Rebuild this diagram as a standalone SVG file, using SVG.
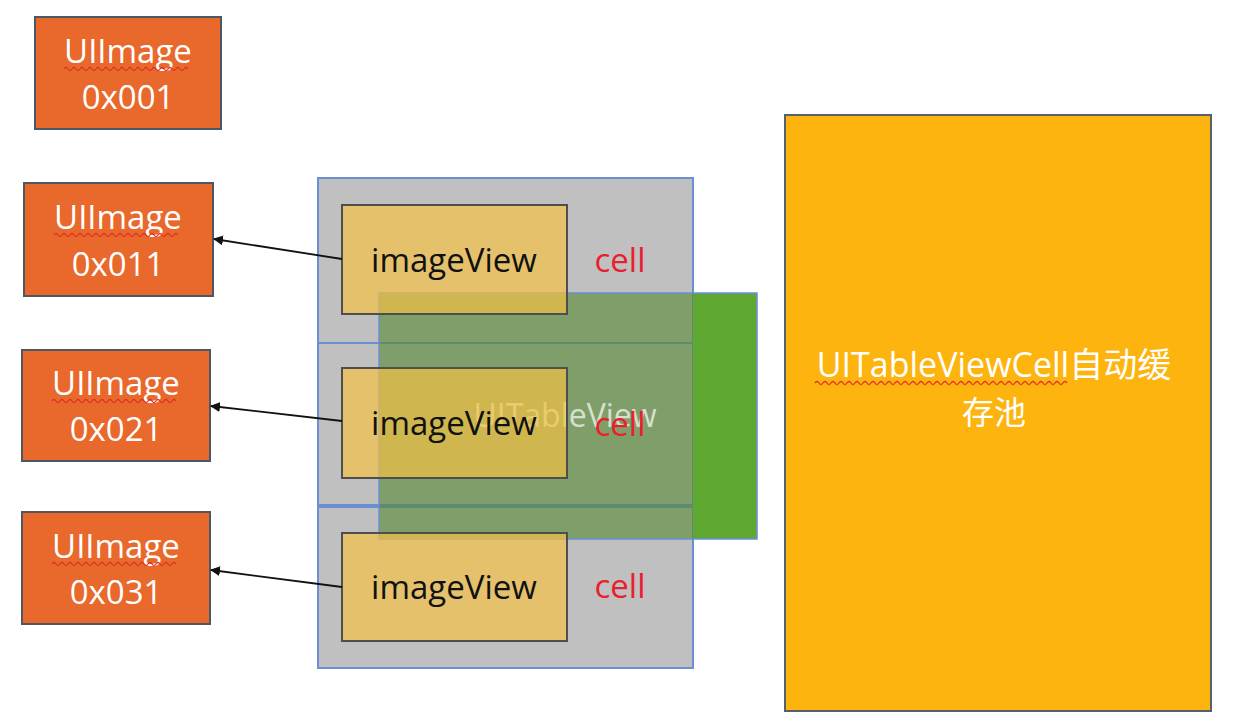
<svg xmlns="http://www.w3.org/2000/svg" width="1234" height="714" viewBox="0 0 1234 714">
<style>
.img{fill:#E8692B;stroke:#4B5763;stroke-width:2}
.imgt{font-family:"Open Sans","Liberation Sans",sans-serif;font-size:33px;fill:#FFFFFF;text-anchor:middle}
.cell{fill:#C0C0C0;stroke:#6B8FD3;stroke-width:2}
.iv{fill:#F3C143;fill-opacity:0.69;stroke:#4E4E4E;stroke-width:2}
.ivt{font-family:"Open Sans","Liberation Sans",sans-serif;font-size:33px;fill:#111111;text-anchor:middle}
.ct{font-family:"Open Sans","Liberation Sans",sans-serif;font-size:33px;fill:#E8202E;text-anchor:middle}
.squig{fill:none;stroke:#E0302A;stroke-width:1.3}
.conn{stroke:#111111;stroke-width:1.8;fill:none}
</style>
<defs>
<marker id="ah" viewBox="0 0 10 10" refX="9" refY="5" markerWidth="10" markerHeight="10" markerUnits="userSpaceOnUse" orient="auto">
<path d="M0,0 L10,5 L0,10 z" fill="#111111"/>
</marker>
</defs>
<rect width="1234" height="714" fill="#FFFFFF"/>

<g id="img001">
<rect class="img" x="35" y="17" width="186" height="112"/>
<text class="imgt" x="128" y="63">UIImage</text>
<path class="squig" d="M64,69 q2,-3 4,0 t4,0 t4,0 t4,0 t4,0 t4,0 t4,0 t4,0 t4,0 t4,0 t4,0 t4,0 t4,0 t4,0 t4,0 t4,0 t4,0 t4,0 t4,0 t4,0 t4,0 t4,0 t4,0 t4,0 t4,0 t4,0 t4,0 t4,0 t4,0 t4,0 t4,0"/>
<text class="imgt" x="128" y="109">0x001</text>
</g>
<g id="img011">
<rect class="img" x="24" y="183" width="189" height="113"/>
<text class="imgt" x="118" y="229">UIImage</text>
<path class="squig" d="M54,235 q2,-3 4,0 t4,0 t4,0 t4,0 t4,0 t4,0 t4,0 t4,0 t4,0 t4,0 t4,0 t4,0 t4,0 t4,0 t4,0 t4,0 t4,0 t4,0 t4,0 t4,0 t4,0 t4,0 t4,0 t4,0 t4,0 t4,0 t4,0 t4,0 t4,0 t4,0 t4,0"/>
<text class="imgt" x="118" y="276">0x011</text>
</g>
<g id="img021">
<rect class="img" x="22" y="350" width="188" height="111"/>
<text class="imgt" x="116" y="395">UIImage</text>
<path class="squig" d="M52,401 q2,-3 4,0 t4,0 t4,0 t4,0 t4,0 t4,0 t4,0 t4,0 t4,0 t4,0 t4,0 t4,0 t4,0 t4,0 t4,0 t4,0 t4,0 t4,0 t4,0 t4,0 t4,0 t4,0 t4,0 t4,0 t4,0 t4,0 t4,0 t4,0 t4,0 t4,0 t4,0"/>
<text class="imgt" x="116" y="441">0x021</text>
</g>
<g id="img031">
<rect class="img" x="22" y="512" width="188" height="112"/>
<text class="imgt" x="116" y="558">UIImage</text>
<path class="squig" d="M52,564 q2,-3 4,0 t4,0 t4,0 t4,0 t4,0 t4,0 t4,0 t4,0 t4,0 t4,0 t4,0 t4,0 t4,0 t4,0 t4,0 t4,0 t4,0 t4,0 t4,0 t4,0 t4,0 t4,0 t4,0 t4,0 t4,0 t4,0 t4,0 t4,0 t4,0 t4,0 t4,0"/>
<text class="imgt" x="116" y="604">0x031</text>
</g>

<g id="cell1"><rect class="cell" x="318" y="178" width="375" height="165"/></g>
<g id="cell2"><rect class="cell" x="318" y="343" width="375" height="162"/></g>
<g id="cell3"><rect class="cell" x="318" y="507" width="375" height="161"/></g>

<g id="tableView">
<rect x="379" y="293" width="314" height="246" fill="#548731" fill-opacity="0.6"/>
<rect x="693" y="293" width="64" height="246" fill="#5FA832"/>
<rect x="379" y="293" width="378" height="246" fill="none" stroke="#6B8FD3" stroke-width="1.5"/>
<text x="565" y="427" font-family="'Open Sans','Liberation Sans',sans-serif" font-size="32" fill="#FFFFFF" fill-opacity="0.7" text-anchor="middle">UITableView</text>
</g>

<g id="iv1"><rect class="iv" x="342" y="205" width="225" height="109"/><text class="ivt" x="454" y="272">imageView</text></g>
<g id="iv2"><rect class="iv" x="342" y="368" width="225" height="110"/><text class="ivt" x="454" y="435">imageView</text></g>
<g id="iv3"><rect class="iv" x="342" y="533" width="225" height="108"/><text class="ivt" x="454" y="599">imageView</text></g>

<g id="cellLabels">
<text class="ct" x="620" y="272">cell</text>
<text class="ct" x="620" y="436">cell</text>
<text class="ct" x="620" y="598">cell</text>
</g>

<g id="pool">
<rect x="785" y="115" width="426" height="596" fill="#FDB40F" stroke="#55616B" stroke-width="2"/>
<text x="994" y="377" font-family="'Open Sans','Liberation Sans','Noto Sans CJK SC',sans-serif" font-size="34" fill="#FFFFFF" text-anchor="middle">UITableViewCell自动缓</text>
<path class="squig" d="M815,383 q2,-3 4,0 t4,0 t4,0 t4,0 t4,0 t4,0 t4,0 t4,0 t4,0 t4,0 t4,0 t4,0 t4,0 t4,0 t4,0 t4,0 t4,0 t4,0 t4,0 t4,0 t4,0 t4,0 t4,0 t4,0 t4,0 t4,0 t4,0 t4,0 t4,0 t4,0 t4,0 t4,0 t4,0 t4,0 t4,0 t4,0 t4,0 t4,0 t4,0 t4,0 t4,0 t4,0 t4,0 t4,0 t4,0 t4,0 t4,0 t4,0 t4,0 t4,0 t4,0 t4,0 t4,0 t4,0 t4,0 t4,0 t4,0 t4,0 t4,0 t4,0 t4,0 t4,0 t4,0"/>
<text x="994" y="424" font-family="'Noto Sans CJK SC',sans-serif" font-size="32" fill="#FFFFFF" text-anchor="middle">存池</text>
</g>

<g id="connectors">
<line class="conn" x1="342" y1="259" x2="214" y2="239" marker-end="url(#ah)"/>
<line class="conn" x1="342" y1="421" x2="211" y2="406" marker-end="url(#ah)"/>
<line class="conn" x1="342" y1="587" x2="211" y2="570" marker-end="url(#ah)"/>
</g>
</svg>
